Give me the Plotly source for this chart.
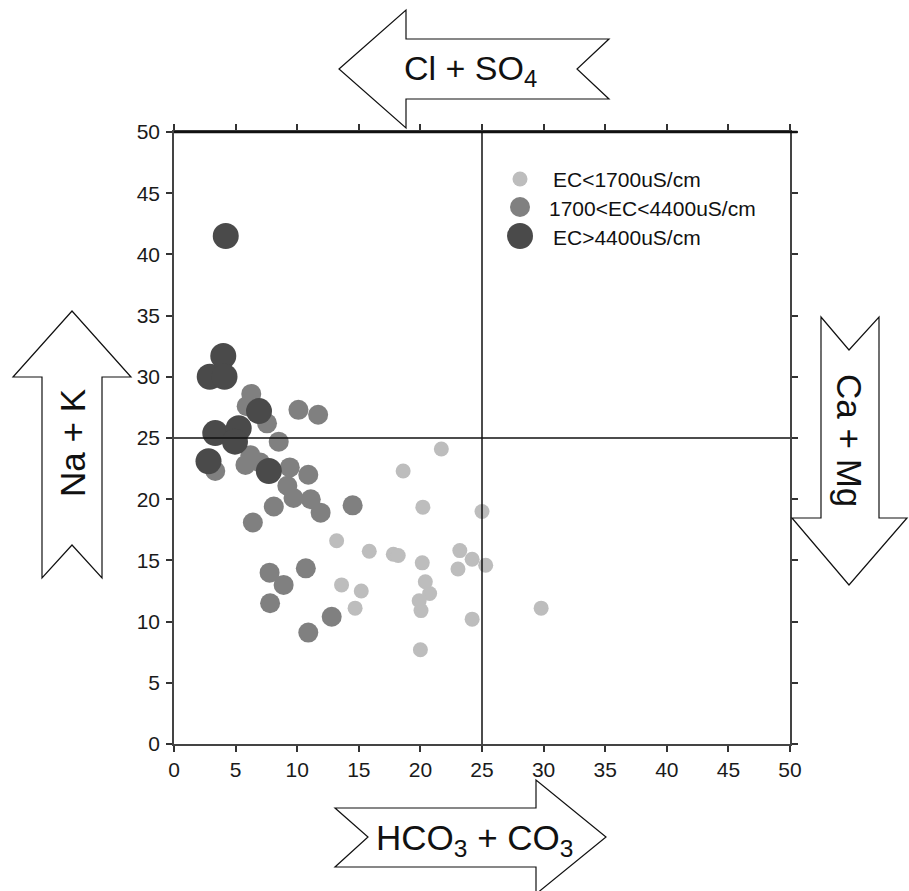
import plotly.graph_objects as go

# ---------------- data ----------------
low_x = [21.7, 18.6, 20.2, 25.0, 13.2, 15.85, 17.8, 18.2, 20.15, 23.2, 24.2, 25.3,
         23.05, 20.4, 20.75, 19.9, 20.05, 13.6, 15.2, 14.7, 29.8, 24.2, 20.0]
low_y = [24.1, 22.3, 19.35, 19.0, 16.6, 15.75, 15.5, 15.4, 14.8, 15.8, 15.1, 14.6,
         14.3, 13.25, 12.3, 11.7, 10.9, 13.0, 12.5, 11.1, 11.1, 10.2, 7.7]

mid_x = [6.27, 5.9, 7.55, 10.1, 11.7, 3.35, 8.5, 6.2, 5.8, 7.0, 9.4, 10.9, 9.2,
         9.7, 11.1, 11.9, 8.1, 6.4, 14.5, 7.76, 8.9, 10.7, 7.8, 12.8, 10.9]
mid_y = [28.6, 27.6, 26.2, 27.3, 26.9, 22.3, 24.7, 23.6, 22.8, 23.0, 22.6, 22.0, 21.1,
         20.1, 20.0, 18.9, 19.4, 18.1, 19.5, 14.0, 13.0, 14.35, 11.5, 10.4, 9.1]

high_x = [4.2, 4.0, 2.9, 4.1, 6.9, 3.35, 5.25, 4.95, 2.8, 7.7]
high_y = [41.5, 31.7, 30.0, 30.0, 27.2, 25.4, 25.8, 24.7, 23.1, 22.3]

series_names = ["EC<1700uS/cm", "1700<EC<4400uS/cm", "EC>4400uS/cm"]
series_colors = ["#bdbdbd", "#808080", "#4a4a4a"]
series_sizes = [15, 20, 26]

tick_vals = [0, 5, 10, 15, 20, 25, 30, 35, 40, 45, 50]
tick_text = [str(v) for v in tick_vals]
divider = 25

label_top = "Cl + SO<sub>4</sub>"
label_bottom = "HCO<sub>3</sub> + CO<sub>3</sub>"
label_left = "Na + K"
label_right = "Ca + Mg"

# ---------------- layout geometry ----------------
FW, FH = 909, 891
L, T, R, B = 174, 132, 119, 147
W, H = FW - L - R, FH - T - B


def px(xp):
    return (xp - L) / W


def py(yp):
    return 1 - (yp - T) / H


def path(points):
    s = "M " + " L ".join(f"{px(a):.5f},{py(b):.5f}" for a, b in points) + " Z"
    return s


fig = go.Figure()
for xs, ys, name, col, sz in zip([low_x, mid_x, high_x], [low_y, mid_y, high_y],
                                 series_names, series_colors, series_sizes):
    fig.add_trace(go.Scatter(x=xs, y=ys, mode="markers", name=name,
                             marker=dict(color=col, size=sz, line=dict(width=0)),
                             showlegend=False))

shapes = []
# quadrant dividers
shapes.append(dict(type="line", xref="x", yref="y", x0=divider, x1=divider, y0=0, y1=50,
                   line=dict(color="#111", width=1.5), layer="above"))
shapes.append(dict(type="line", xref="x", yref="y", x0=0, x1=50, y0=divider, y1=divider,
                   line=dict(color="#111", width=1.5), layer="above"))
# thicker top frame line
shapes.append(dict(type="line", xref="paper", yref="paper", x0=0, x1=1.012, y0=1, y1=1,
                   line=dict(color="#111", width=2.5), layer="above"))

arrow_style = dict(type="path", xref="paper", yref="paper", fillcolor="white",
                   line=dict(color="#111", width=1.2), layer="above")
top_arrow = [(339, 69), (406, 10), (406, 39), (609, 39), (577, 69), (609, 99), (406, 99), (406, 128)]
bottom_arrow = [(335, 808), (536, 808), (536, 780), (606, 837), (536, 894), (536, 867), (335, 867), (368, 837)]
left_arrow = [(72, 311), (131, 377), (102, 377), (102, 578), (72, 545), (42, 578), (42, 377), (13, 377)]
right_arrow = [(821, 317), (849, 350), (879, 317), (879, 518), (907, 518), (849, 585), (792, 518), (821, 518)]
for pts in [top_arrow, bottom_arrow, left_arrow, right_arrow]:
    shapes.append(dict(arrow_style, path=path(pts)))

# manual legend symbols
legend_pos = [(520, 179), (520, 207), (520, 236)]
for (lx, ly), col, sz in zip(legend_pos, series_colors, series_sizes):
    r = sz / 2
    shapes.append(dict(type="circle", xref="paper", yref="paper", xsizemode="pixel", ysizemode="pixel",
                       xanchor=px(lx), yanchor=py(ly), x0=-r, x1=r, y0=-r, y1=r,
                       fillcolor=col, line=dict(width=0), layer="above"))

font_family = "Liberation Sans, Arial, sans-serif"
annotations = []
legend_text_x = [551, 547, 551]
for (lx, ly), tx, name in zip(legend_pos, legend_text_x, series_names):
    annotations.append(dict(xref="paper", yref="paper", x=px(tx), y=py(ly + 1), text=name,
                            showarrow=False, xanchor="left", yanchor="middle",
                            font=dict(family=font_family, size=21, color="#111")))

annotations.append(dict(xref="paper", yref="paper", x=px(470), y=py(71), text=label_top,
                        showarrow=False, xanchor="center", yanchor="middle",
                        font=dict(family=font_family, size=34, color="#111")))
annotations.append(dict(xref="paper", yref="paper", x=px(474), y=py(840), text=label_bottom,
                        showarrow=False, xanchor="center", yanchor="middle",
                        font=dict(family=font_family, size=35, color="#111")))
annotations.append(dict(xref="paper", yref="paper", x=px(72), y=py(443), text=label_left,
                        showarrow=False, xanchor="center", yanchor="middle", textangle=-90,
                        font=dict(family=font_family, size=35, color="#111")))
annotations.append(dict(xref="paper", yref="paper", x=px(850), y=py(440), text=label_right,
                        showarrow=False, xanchor="center", yanchor="middle", textangle=90,
                        font=dict(family=font_family, size=35, color="#111")))

axis_common = dict(range=[0, 50], tickvals=tick_vals, ticktext=tick_text, ticks="outside",
                   ticklen=6, tickwidth=1.5, tickcolor="#333", showline=True, linewidth=1.5,
                   linecolor="#444", mirror="ticks", showgrid=False, zeroline=False,
                   tickfont=dict(family=font_family, size=21, color="#1a1a1a"), fixedrange=True)

fig.update_layout(
    width=FW, height=FH,
    margin=dict(l=L, r=R, t=T, b=B, autoexpand=False),
    paper_bgcolor="white", plot_bgcolor="white",
    xaxis=dict(axis_common),
    yaxis=dict(axis_common, ticklabelstandoff=2),
    shapes=shapes,
    annotations=annotations,
    showlegend=False,
)

fig.write_html("out.html")
